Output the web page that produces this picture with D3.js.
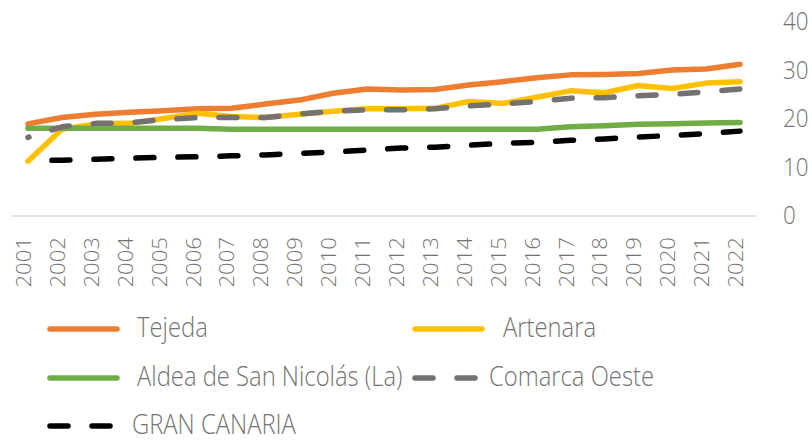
<!DOCTYPE html>
<html>
<head>
<meta charset="utf-8">
<script src="https://cdn.jsdelivr.net/npm/d3@7"></script>
<style>
  body { margin: 0; background: #fff; }
  svg text { font-family: "Open Sans", sans-serif; font-weight: 300; fill: #737373; }
</style>
</head>
<body>
<div id="chart"></div>
<script>
// data
var years = ["2001","2002","2003","2004","2005","2006","2007","2008","2009","2010","2011",
             "2012","2013","2014","2015","2016","2017","2018","2019","2020","2021","2022"];
var tejeda = [19.0,20.3,21.0,21.4,21.7,22.1,22.2,23.1,23.9,25.3,26.2,26.0,26.1,27.0,27.7,28.5,29.1,29.2,29.4,30.1,30.3,31.3];
var artenara = [11.3,17.9,19.0,19.1,20.1,21.2,20.5,20.3,21.0,21.6,22.1,22.1,22.2,23.6,23.2,24.5,25.8,25.4,26.9,26.3,27.4,27.7];
var aldea = [18.1,18.1,18.1,18.1,18.1,18.1,17.9,17.9,17.9,17.9,17.9,17.9,17.9,17.9,17.9,17.9,18.4,18.6,18.9,19.0,19.2,19.3];
var comarca = [16.2,18.4,19.1,19.2,19.9,20.3,20.3,20.3,21.0,21.6,21.9,21.9,22.1,22.7,23.1,23.6,24.3,24.4,24.8,25.1,25.6,26.2];
var granCanaria = [11.4,11.5,11.7,11.9,12.1,12.2,12.4,12.6,12.9,13.2,13.6,14.0,14.2,14.6,15.0,15.2,15.6,15.9,16.3,16.6,17.0,17.5];
var yTicks = [0, 10, 20, 30, 40];

var seriesList = [
  {name: "Tejeda", values: tejeda, color: "#ED7D31", dash: null},
  {name: "Artenara", values: artenara, color: "#FFC000", dash: null},
  {name: "Aldea de San Nicolás (La)", values: aldea, color: "#70AD47", dash: null},
  {name: "Comarca Oeste", values: comarca, color: "#767171", dash: "18,24", offset: 17},
  {name: "GRAN CANARIA", values: granCanaria, color: "#000000", dash: "18,24", offset: 18}
];

var width = 812, height = 442;
var textScale = "scale(1,1.12)";

var svg = d3.select("#chart")
    .append("svg")
    .attr("width", width)
    .attr("height", height);

var x = d3.scaleBand().domain(years).range([11, 757]).padding(0);
var y = d3.scaleLinear().domain([0, 40]).range([216, 22]);

// baseline
svg.append("line")
    .attr("x1", x.range()[0]).attr("x2", x.range()[1])
    .attr("y1", y(0)).attr("y2", y(0))
    .attr("stroke", "#d9d9d9")
    .attr("stroke-width", 1.5);

// y axis on the right
var yAxis = svg.append("g")
    .attr("transform", "translate(783,0)")
    .call(d3.axisRight(y).tickValues(yTicks).tickSize(0).tickPadding(0));
yAxis.select(".domain").remove();
yAxis.selectAll("text")
    .attr("x", null).attr("dy", null)
    .attr("text-anchor", "start")
    .attr("transform", "translate(0,7.5) " + textScale)
    .style("font-size", "22.5px");

// x axis, rotated year labels
var xAxis = svg.append("g")
    .attr("transform", "translate(0,237)")
    .call(d3.axisBottom(x).tickSize(0).tickPadding(0));
xAxis.select(".domain").remove();
xAxis.selectAll("text")
    .attr("y", null).attr("dy", null)
    .attr("text-anchor", "end")
    .attr("transform", "translate(3,0) " + textScale + " rotate(-90)")
    .style("font-size", "19.8px");

var line = d3.line()
    .x(function(d, i) { return x(years[i]) + x.bandwidth() / 2; })
    .y(function(d) { return y(d); });

svg.selectAll(".series")
    .data(seriesList)
    .enter()
    .append("path")
    .attr("class", "series")
    .attr("d", function(d) { return line(d.values); })
    .attr("fill", "none")
    .attr("stroke", function(d) { return d.color; })
    .attr("stroke-width", 5.5)
    .attr("stroke-linecap", "round")
    .attr("stroke-linejoin", "round")
    .attr("stroke-dasharray", function(d) { return d.dash; })
    .attr("stroke-dashoffset", function(d) { return d.dash ? d.offset : null; });

// legend
var legendPos = [
  {lx: 50, tx: 137, y: 329},
  {lx: 415, tx: 503, y: 329},
  {lx: 50, tx: 137, y: 378},
  {lx: 415, tx: 489, y: 378},
  {lx: 50, tx: 132, y: 426}
];

var legend = svg.selectAll(".legend")
    .data(seriesList)
    .enter()
    .append("g")
    .attr("class", "legend");

legend.append("line")
    .attr("x1", function(d, i) { return legendPos[i].lx; })
    .attr("x2", function(d, i) { return legendPos[i].lx + 67; })
    .attr("y1", function(d, i) { return legendPos[i].y; })
    .attr("y2", function(d, i) { return legendPos[i].y; })
    .attr("stroke", function(d) { return d.color; })
    .attr("stroke-width", 5.5)
    .attr("stroke-linecap", "round")
    .attr("stroke-dasharray", function(d) { return d.dash; });

legend.append("text")
    .attr("transform", function(d, i) {
        return "translate(" + legendPos[i].tx + "," + (legendPos[i].y + 8) + ") " + textScale;
    })
    .style("font-size", "23.8px")
    .text(function(d) { return d.name; });
</script>
</body>
</html>
